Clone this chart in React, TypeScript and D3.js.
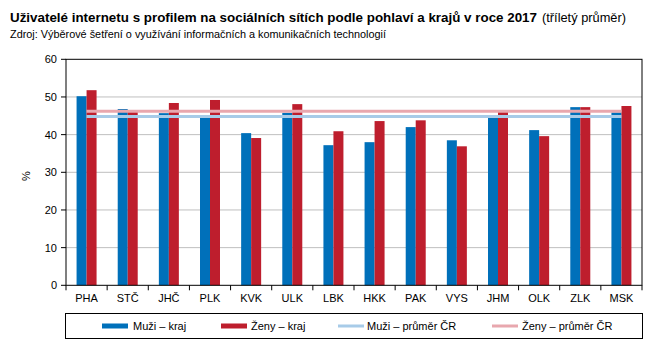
import React from "react";
import * as d3 from "d3";

const categories = ["PHA", "STČ", "JHČ", "PLK", "KVK", "ULK", "LBK", "HKK", "PAK", "VYS", "JHM", "OLK", "ZLK", "MSK"];
const muziKraj = [50.2, 46.8, 45.7, 44.9, 40.4, 45.8, 37.2, 38.0, 42.0, 38.5, 44.9, 41.2, 47.3, 45.9];
const zenyKraj = [51.8, 46.4, 48.4, 49.2, 39.1, 48.1, 40.9, 43.6, 43.8, 36.9, 46.0, 39.6, 47.3, 47.6];
const muziPrumer = 44.8;
const zenyPrumer = 46.2;
const yTicks = [0, 10, 20, 30, 40, 50, 60];

const title = "Uživatelé internetu s profilem na sociálních sítích podle pohlaví a krajů v roce 2017";
const titleSuffix = "(tříletý průměr)";
const subtitle = "Zdroj: Výběrové šetření o využívání informačních a komunikačních technologií";
const legendLabels = ["Muži – kraj", "Ženy – kraj", "Muži – průměr ČR", "Ženy – průměr ČR"];

const BLUE = "#0070BA";
const RED = "#BE1E2D";
const LBLUE = "#A7CBE8";
const PINK = "#E8A7AE";
const FONT = "'Liberation Sans', Arial, sans-serif";

export default function App() {
  const W = 660, H = 347;
  const left = 66, right = 642, top = 59.3, bottom = 285.3;
  const x = d3.scaleBand<string>().domain(categories).range([left, right]).padding(0);
  const y = d3.scaleLinear().domain([0, 60]).range([bottom, top]);
  const bw = 10;
  const cx = (c: string) => (x(c) as number) + x.bandwidth() / 2;
  const lineX1 = cx(categories[0]);
  const lineX2 = cx(categories[categories.length - 1]);
  const boundaries = categories.map((c) => x(c) as number).concat([right]);

  const legendItems = [
    { label: legendLabels[0], color: BLUE, sx: 102, tx: 133, h: 5 },
    { label: legendLabels[1], color: RED, sx: 221, tx: 251, h: 5 },
    { label: legendLabels[2], color: LBLUE, sx: 338, tx: 367, h: 3 },
    { label: legendLabels[3], color: PINK, sx: 492, tx: 522, h: 3 },
  ];

  return (
    <svg width={W} height={H} style={{ position: "absolute", left: 0, top: 0, background: "#fff" }} fontFamily={FONT}>
      <rect x={0} y={0} width={W} height={H} fill="#fff" />
      <text x={10} y={22} fontSize={13.5} fontWeight="bold" fill="#000" textLength={527} lengthAdjust="spacingAndGlyphs">{title}</text>
      <text x={542} y={22} fontSize={13} fill="#000" textLength={84} lengthAdjust="spacingAndGlyphs">{titleSuffix}</text>
      <text x={10} y={38} fontSize={11} fill="#000" textLength={376} lengthAdjust="spacingAndGlyphs">{subtitle}</text>

      {/* gridlines */}
      {yTicks.filter((t) => t > 0 && t < 60).map((t) => (
        <line key={t} x1={left} x2={right} y1={y(t)} y2={y(t)} stroke="#BFBFBF" strokeWidth={1} />
      ))}

      {/* bars */}
      {categories.map((c, i) => (
        <g key={c}>
          <rect x={cx(c) - bw} y={y(muziKraj[i])} width={bw} height={bottom - y(muziKraj[i])} fill={BLUE} />
          <rect x={cx(c)} y={y(zenyKraj[i])} width={bw} height={bottom - y(zenyKraj[i])} fill={RED} />
        </g>
      ))}

      {/* average lines */}
      <line x1={lineX1} x2={lineX2} y1={y(zenyPrumer)} y2={y(zenyPrumer)} stroke={PINK} strokeWidth={3} />
      <line x1={lineX1} x2={lineX2} y1={y(muziPrumer)} y2={y(muziPrumer)} stroke={LBLUE} strokeWidth={3} />

      {/* frame */}
      <rect x={left} y={top} width={right - left} height={bottom - top} fill="none" stroke="#000" strokeWidth={1} />

      {/* y axis */}
      {yTicks.map((t) => (
        <g key={t}>
          <line x1={left - 5} x2={left} y1={y(t)} y2={y(t)} stroke="#000" />
          <text x={57} y={y(t) + 4} fontSize={11} textAnchor="end" fill="#000">{t}</text>
        </g>
      ))}
      <text transform={`translate(30,176) rotate(-90)`} fontSize={11} textAnchor="middle" fill="#000">%</text>

      {/* x axis */}
      {boundaries.map((b, i) => (
        <line key={i} x1={b} x2={b} y1={bottom} y2={bottom + 5} stroke="#000" />
      ))}
      {categories.map((c) => (
        <text key={c} x={cx(c)} y={302} fontSize={11} textAnchor="middle" fill="#000">{c}</text>
      ))}

      {/* legend */}
      <rect x={65.5} y={313.5} width={577} height={25} fill="none" stroke="#000" strokeWidth={1} />
      {legendItems.map((it) => (
        <g key={it.label}>
          <rect x={it.sx} y={326 - it.h / 2} width={26} height={it.h} fill={it.color} />
          <text x={it.tx} y={330} fontSize={11} fill="#000">{it.label}</text>
        </g>
      ))}
    </svg>
  );
}
